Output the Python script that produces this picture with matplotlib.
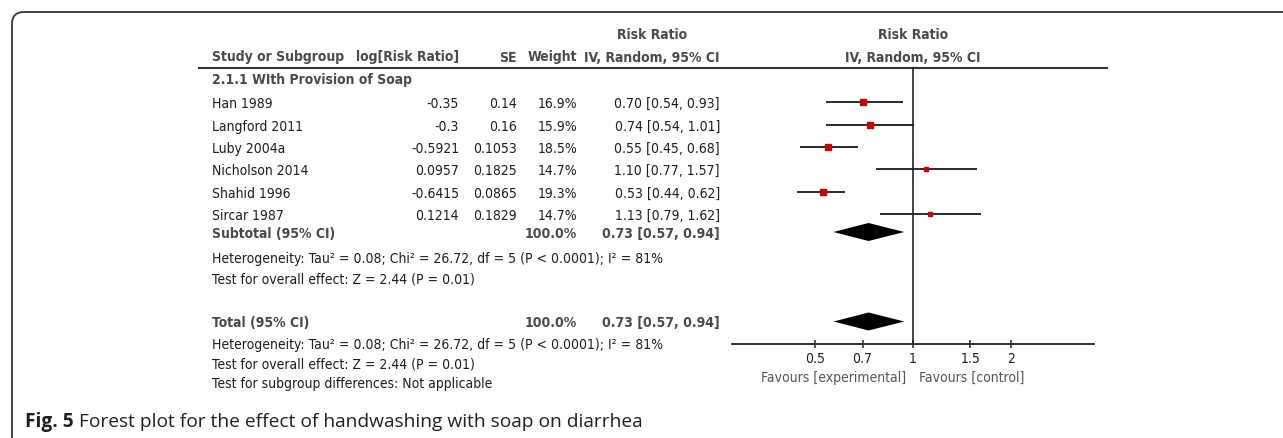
import numpy as np
import matplotlib
matplotlib.use("Agg")
import matplotlib.pyplot as plt
from matplotlib import font_manager as fm
from matplotlib.patches import FancyBboxPatch

# study level data (log risk ratio, SE, weight, RR with 95% CI)
studies = ["Han 1989", "Langford 2011", "Luby 2004a", "Nicholson 2014", "Shahid 1996", "Sircar 1987"]
log_rr = [-0.35, -0.3, -0.5921, 0.0957, -0.6415, 0.1214]
se = [0.14, 0.16, 0.1053, 0.1825, 0.0865, 0.1829]
weight = [16.9, 15.9, 18.5, 14.7, 19.3, 14.7]
rr = [0.70, 0.74, 0.55, 1.10, 0.53, 1.13]
ci_lo = [0.54, 0.54, 0.45, 0.77, 0.44, 0.79]
ci_hi = [0.93, 1.01, 0.68, 1.57, 0.62, 1.62]

# pooled estimate (subtotal and total are identical: one subgroup)
pooled_rr, pooled_lo, pooled_hi = 0.73, 0.57, 0.94
pooled_weight = 100.0
heterogeneity = "Heterogeneity: Tau\u00b2 = 0.08; Chi\u00b2 = 26.72, df = 5 (P < 0.0001); I\u00b2 = 81%"
overall_effect = "Test for overall effect: Z = 2.44 (P = 0.01)"
subgroup_test = "Test for subgroup differences: Not applicable"

ticks = [0.5, 0.7, 1, 1.5, 2]
tick_labels = ["0.5", "0.7", "1", "1.5", "2"]

W, H = 1283, 438

names = {f.name for f in fm.fontManager.ttflist}
narrow = "Liberation Sans Narrow" if "Liberation Sans Narrow" in names else "DejaVu Sans"
stretch = "normal" if narrow == "Liberation Sans Narrow" else "condensed"
FS = 10
DARK = "#1e1e1e"
HEAD = "#4a4a4a"


def txt(ax, x, y, s, ha="left", bold=False, color=None, size=FS):
    ax.text(x, y, s, ha=ha, va="center", fontsize=size, family=narrow, fontstretch=stretch,
            fontweight="bold" if bold else "normal", color=color or (HEAD if bold else DARK))


fig = plt.figure(figsize=(W / 100, H / 100), dpi=100)
base = fig.add_axes([0, 0, 1, 1])
base.set_xlim(0, W)
base.set_ylim(H, 0)
base.axis("off")

# frame around the figure panel
base.add_patch(FancyBboxPatch((12, 12), W + 40, H + 40, boxstyle="round,pad=0,rounding_size=12",
                              fill=False, ec="#333333", lw=1.3, clip_on=True))

# table header
txt(base, 652, 35, "Risk Ratio", ha="center", bold=True)
txt(base, 913, 35, "Risk Ratio", ha="center", bold=True)
txt(base, 212, 57.5, "Study or Subgroup", bold=True)
txt(base, 459, 57.5, "log[Risk Ratio]", ha="right", bold=True)
txt(base, 517, 57.5, "SE", ha="right", bold=True)
txt(base, 577, 57.5, "Weight", ha="right", bold=True)
txt(base, 720, 57.5, "IV, Random, 95% CI", ha="right", bold=True)
txt(base, 913, 57.5, "IV, Random, 95% CI", ha="center", bold=True)
base.plot([199, 1107], [68, 68], color="#333333", lw=1.5)

txt(base, 212, 80, "2.1.1 WIth Provision of Soap", bold=True)

row_y = [104.3, 126.6, 148.9, 171.2, 193.5, 215.8]
for i, name in enumerate(studies):
    y = row_y[i]
    txt(base, 212, y, name)
    txt(base, 459, y, str(log_rr[i]), ha="right")
    txt(base, 517, y, str(se[i]), ha="right")
    txt(base, 577, y, f"{weight[i]:.1f}%", ha="right")
    txt(base, 720, y, f"{rr[i]:.2f} [{ci_lo[i]:.2f}, {ci_hi[i]:.2f}]", ha="right")

pooled_str = f"{pooled_rr:.2f} [{pooled_lo:.2f}, {pooled_hi:.2f}]"
sub_y, total_y = 234.5, 323
txt(base, 212, sub_y, "Subtotal (95% CI)", bold=True)
txt(base, 577, sub_y, f"{pooled_weight:.1f}%", ha="right", bold=True)
txt(base, 720, sub_y, pooled_str, ha="right", bold=True)
txt(base, 212, 259.5, heterogeneity)
txt(base, 212, 279.5, overall_effect)

txt(base, 212, total_y, "Total (95% CI)", bold=True)
txt(base, 577, total_y, f"{pooled_weight:.1f}%", ha="right", bold=True)
txt(base, 720, total_y, pooled_str, ha="right", bold=True)
txt(base, 212, 345, heterogeneity)
txt(base, 212, 364.5, overall_effect)
txt(base, 212, 384, subgroup_test)

# caption
cap = base.text(25, 422, "Fig. 5", ha="left", va="center", fontsize=13.8,
                family="Open Sans", fontweight="bold", color="#231f20")
base.annotate(" Forest plot for the effect of handwashing with soap on diarrhea", xy=(1, 0.5),
              xycoords=cap, ha="left", va="center", fontsize=13.8, family="Open Sans",
              color="#231f20")

# forest plot panel, log scale on x, same pixel rows on y
x0, x1 = 732, 1094
fp = fig.add_axes([x0 / W, 0, (x1 - x0) / W, 1])
fp.set_xscale("log")
fp.set_xlim(np.exp(-1.28), np.exp(1.28))
fp.set_ylim(H, 0)
fp.patch.set_alpha(0)
for s in ["top", "left", "right"]:
    fp.spines[s].set_visible(False)
axis_y = 344
fp.spines["bottom"].set_position(("data", axis_y))
fp.spines["bottom"].set_color("#222222")
fp.spines["bottom"].set_linewidth(1.3)
fp.set_yticks([])
fp.set_xticks(ticks)
fp.set_xticklabels(tick_labels)
fp.xaxis.set_minor_locator(matplotlib.ticker.NullLocator())
fp.tick_params(axis="x", direction="inout", length=6, width=1.1, color="#222222", pad=3,
               labelsize=FS, labelcolor=DARK)
for lab in fp.get_xticklabels():
    lab.set_family(narrow)
    lab.set_fontstretch(stretch)

fp.plot([1, 1], [68, axis_y], color="#222222", lw=1.2)

wmin, wmax = min(weight), max(weight)
for i in range(len(studies)):
    y = row_y[i] - 2
    fp.plot([ci_lo[i], ci_hi[i]], [y, y], color="#1a1a1a", lw=1.3, solid_capstyle="butt")
    ms = 3.2 + 1.6 * (weight[i] - wmin) / (wmax - wmin)
    fp.plot(rr[i], y, "s", ms=ms, color="#cc0000", mec="#cc0000")

for y in [sub_y - 2.5, total_y - 1.5]:
    h = 9
    fp.fill([pooled_lo, pooled_rr, pooled_hi, pooled_rr], [y, y - h, y, y + h], color="black", lw=0)

fp.annotate("Favours [experimental]", xy=(1, 378), xytext=(-5, 0), textcoords="offset points",
            ha="right", va="center", fontsize=FS, family=narrow, fontstretch=stretch, color="#555555")
fp.annotate("Favours [control]", xy=(1, 378), xytext=(4, 0), textcoords="offset points",
            ha="left", va="center", fontsize=FS, family=narrow, fontstretch=stretch, color="#555555")

fig.savefig("out.png", dpi=100)
